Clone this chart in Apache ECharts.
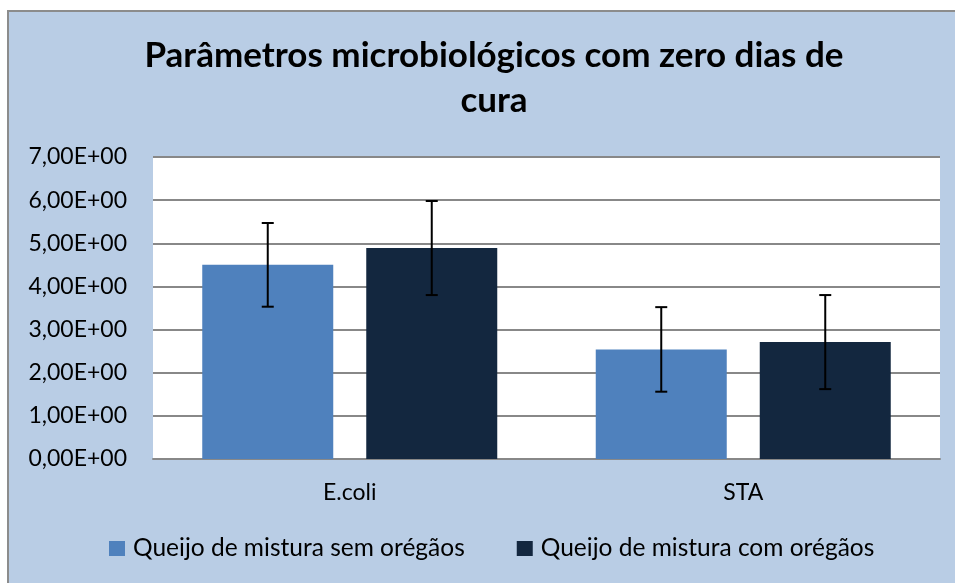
<!DOCTYPE html>
<html>
<head>
<meta charset="utf-8">
<script src="https://cdn.jsdelivr.net/npm/echarts@6/dist/echarts.min.js"></script>
<style>
  html, body { margin: 0; padding: 0; background: #fff; }
  #chart { width: 955px; height: 583px; }
</style>
</head>
<body>
<div id="chart"></div>
<script>
var categories = ['E.coli', 'STA'];
var seriesNames = ['Queijo de mistura sem orégãos', 'Queijo de mistura com orégãos'];
var semOregaos = [4.50, 2.54];
var comOregaos = [4.89, 2.71];
var errSem = [0.97, 0.98];
var errCom = [1.09, 1.09];
var yTicks = [0, 1, 2, 3, 4, 5, 6, 7];

var font = 'Lato, "Open Sans", sans-serif';
var colors = ['#4f81bd', '#13273f'];
var barW = 131;
var barGap = 33;

function errorSeries(values, errs, idx) {
  var data = values.map(function (v, i) { return [i, v - errs[i], v + errs[i]]; });
  return {
    type: 'custom',
    name: seriesNames[idx] + ' err',
    z: 10,
    silent: true,
    data: data,
    renderItem: function (params, api) {
      var off = (idx === 0 ? -1 : 1) * (barW + barGap) / 2;
      var lo = api.coord([api.value(0), api.value(1)]);
      var hi = api.coord([api.value(0), api.value(2)]);
      var x = lo[0] + off;
      var cap = 6;
      var st = { stroke: '#000', lineWidth: 2 };
      return {
        type: 'group',
        children: [
          { type: 'line', shape: { x1: x, y1: hi[1], x2: x, y2: lo[1] }, style: st },
          { type: 'line', shape: { x1: x - cap, y1: hi[1], x2: x + cap, y2: hi[1] }, style: st },
          { type: 'line', shape: { x1: x - cap, y1: lo[1], x2: x + cap, y2: lo[1] }, style: st }
        ]
      };
    }
  };
}

var chart = echarts.init(document.getElementById('chart'));
chart.setOption({
  animation: false,
  textStyle: { fontFamily: font },
  graphic: [
    {
      type: 'rect', z: -10,
      shape: { x: 8, y: 11, width: 960, height: 590 },
      style: { fill: '#b9cde5', stroke: '#8c8c8c', lineWidth: 2 }
    },
    {
      type: 'rect', z: -5,
      shape: { x: 153, y: 157, width: 787, height: 302 },
      style: { fill: '#fff' }
    }
  ],
  title: {
    text: 'Parâmetros microbiológicos com zero dias de\ncura',
    left: 489, top: 28, textAlign: 'center',
    textStyle: { fontFamily: font, fontSize: 35, fontWeight: 'bold', color: '#000', lineHeight: 45 }
  },
  legend: {
    data: seriesNames,
    left: 109, top: 536, padding: 0,
    itemWidth: 16, itemHeight: 15, itemGap: 52,
    icon: 'rect',
    textStyle: { fontFamily: font, fontSize: 24.5, color: '#000', padding: [0, 0, 0, 3] }
  },
  grid: { left: 153, right: 15, top: 157, bottom: 124, containLabel: false },
  xAxis: {
    type: 'category',
    data: categories,
    axisLine: { lineStyle: { color: '#888', width: 2 } },
    axisTick: { show: false },
    axisLabel: { fontFamily: font, fontSize: 23, color: '#000', margin: 22 }
  },
  yAxis: {
    type: 'value',
    min: yTicks[0], max: yTicks[yTicks.length - 1], interval: 1,
    axisLine: { show: false },
    axisTick: { show: false },
    splitLine: { lineStyle: { color: '#888', width: 2 } },
    axisLabel: {
      fontFamily: font, fontSize: 23, color: '#000', margin: 26,
      formatter: function (v) { return v.toFixed(2).replace('.', ',') + 'E+00'; }
    }
  },
  series: [
    {
      type: 'bar', name: seriesNames[0], data: semOregaos,
      barWidth: barW, barGap: (barGap / barW * 100) + '%',
      itemStyle: { color: colors[0] }
    },
    {
      type: 'bar', name: seriesNames[1], data: comOregaos,
      barWidth: barW,
      itemStyle: { color: colors[1] }
    },
    errorSeries(semOregaos, errSem, 0),
    errorSeries(comOregaos, errCom, 1)
  ]
});
</script>
</body>
</html>
